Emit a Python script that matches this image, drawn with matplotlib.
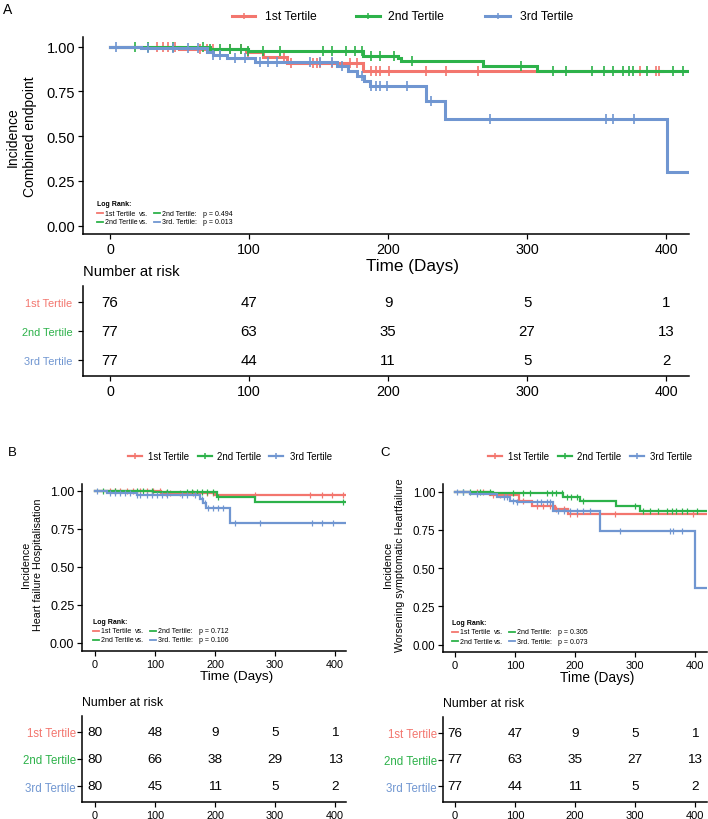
import numpy as np
import matplotlib
matplotlib.use('Agg')
import matplotlib.pyplot as plt
from matplotlib.lines import Line2D

plt.rcParams['font.family'] = ['Liberation Sans', 'DejaVu Sans']

W, H = 708, 820

groups = ['1st Tertile', '2nd Tertile', '3rd Tertile']
colors = ['#F3766E', '#2DB24A', '#7096D1']
risk_times = [0, 100, 200, 300, 400]

# ---- panel A: combined endpoint ----
a1_t = [50, 98, 110, 127, 182]
a1_s = [0.987, 0.97, 0.945, 0.91, 0.866]
a1_c = [34, 38, 42, 47, 65, 70, 74, 86, 94, 99, 125, 130, 146, 149, 151, 160, 173, 178,
        188, 191, 194, 201, 227, 242, 265, 381, 393, 395]
a2_t = [72, 99, 182, 207, 209, 268, 307]
a2_s = [0.987, 0.974, 0.95, 0.935, 0.922, 0.894, 0.863]
a2_c = [18, 27, 45, 67, 72, 79, 86, 94, 99, 110, 122, 153, 160, 170, 176, 181, 188, 194,
        204, 217, 296, 319, 328, 347, 355, 362, 369, 373, 376, 386, 405, 412]
a3_t = [22, 70, 74, 84, 104, 163, 171, 178, 183, 187, 227, 241, 401]
a3_s = [0.99, 0.97, 0.955, 0.935, 0.915, 0.894, 0.866, 0.838, 0.81, 0.779, 0.695, 0.596, 0.298]
a3_c = [4, 27, 45, 56, 63, 74, 79, 90, 97, 108, 114, 120, 144, 151, 160, 167, 181, 188,
        191, 194, 199, 214, 231, 273, 357, 362, 377]
a_end = [397, 417, 417]
a_risk = [[76, 47, 9, 5, 1], [77, 63, 35, 27, 13], [77, 44, 11, 5, 2]]
a_p = ['p = 0.494', 'p = 0.013']

# ---- panel B: heart failure hospitalisation ----
b1_t = [110, 200]
b1_s = [0.987, 0.974]
b1_c = [25, 33, 42, 53, 64, 75, 86, 97, 108, 119, 125, 142, 163, 187, 197, 267, 358, 378, 395, 413]
b2_t = [97, 203, 267]
b2_s = [0.993, 0.958, 0.93]
b2_c = [13, 33, 70, 80, 95, 120, 153, 162, 170, 178, 187, 197, 205, 413]
b3_t = [20, 70, 175, 180, 185, 225]
b3_s = [0.987, 0.974, 0.95, 0.92, 0.89, 0.79]
b3_c = [3, 25, 33, 42, 50, 58, 70, 75, 86, 95, 103, 112, 120, 145, 153, 167, 178, 183,
        188, 197, 205, 213, 233, 275, 362, 378, 397]
b_end = [420, 420, 420]
b_risk = [[80, 48, 9, 5, 1], [80, 66, 38, 29, 13], [80, 45, 11, 5, 2]]
b_p = ['p = 0.712', 'p = 0.106']

# ---- panel C: worsening symptomatic heartfailure ----
c1_t = [58, 106, 128, 167, 189]
c1_s = [0.975, 0.94, 0.908, 0.885, 0.855]
c1_c = [36, 47, 64, 75, 114, 136, 147, 158, 169, 181, 192, 203, 267, 397]
c2_t = [64, 180, 208, 269, 308]
c2_s = [0.99, 0.963, 0.941, 0.908, 0.872]
c2_c = [14, 25, 42, 58, 97, 114, 125, 153, 161, 169, 178, 186, 194, 203, 214, 300, 314,
        325, 339, 353, 361, 369, 378, 386, 403]
c3_t = [25, 70, 92, 103, 164, 242, 400]
c3_s = [0.985, 0.963, 0.941, 0.93, 0.876, 0.745, 0.37]
c3_c = [3, 14, 36, 81, 86, 97, 103, 136, 144, 153, 158, 172, 181, 192, 203, 214, 225,
        275, 358, 364, 378]
c_end = [420, 420, 420]
c_risk = [[76, 47, 9, 5, 1], [77, 63, 35, 27, 13], [77, 44, 11, 5, 2]]
c_p = ['p = 0.305', 'p = 0.073']

fig = plt.figure(figsize=(W / 100, H / 100), dpi=100)


def px_axes(l, t, r, b):
    return fig.add_axes([l / W, 1 - b / H, (r - l) / W, (b - t) / H])


def ftext(x, y, s, **kw):
    kw.setdefault('va', 'center')
    fig.text(x / W, 1 - y / H, s, **kw)


def fline(x1, x2, y, color, lw):
    fig.add_artist(Line2D([x1 / W, x2 / W], [1 - y / H, 1 - y / H], color=color, lw=lw))


def surv_at(ts, ss, t):
    i = np.searchsorted(ts, t, side='right')
    return 1.0 if i == 0 else ss[i - 1]


def draw_km(ax, ts, ss, cens, end, color, lw, ms):
    xs = [0] + ts + [end]
    ys = [1.0] + ss + [ss[-1]]
    ax.step(xs, ys, where='post', color=color, lw=lw, solid_joinstyle='miter')
    cy = [surv_at(ts, ss, c) for c in cens]
    ax.plot(cens, cy, ls='none', marker='|', ms=ms, mew=lw * 0.55, color=color)


def style(ax, fs_x, fs_y, lw_sp):
    for s in ['top', 'right']:
        ax.spines[s].set_visible(False)
    for s in ['left', 'bottom']:
        ax.spines[s].set_linewidth(lw_sp)
    ax.tick_params(axis='x', labelsize=fs_x, length=3.5, width=lw_sp * 0.8, pad=2.5)
    ax.tick_params(axis='y', labelsize=fs_y, length=3.5, width=lw_sp * 0.8, pad=2)
    ax.set_xticks(risk_times)


def main_panel(box, xlim, ylim, series, ends, lw, ms, fs_x, fs_y):
    ax = px_axes(*box)
    for (ts, ss, cs), e, col in zip(series, ends, colors):
        draw_km(ax, ts, ss, cs, e, col, lw, ms)
    ax.set_xlim(*xlim)
    ax.set_ylim(*ylim)
    ax.set_yticks([0, 0.25, 0.5, 0.75, 1.0])
    ax.set_yticklabels(['0.00', '0.25', '0.50', '0.75', '1.00'])
    style(ax, fs_x, fs_y, 1.1)
    return ax


def risk_panel(box, xlim, ylim, risk, fs_val, fs_lab, fs_x, lab_pad):
    ax = px_axes(*box)
    for i, row in enumerate(risk):
        for t, n in zip(risk_times, row):
            ax.text(t, 3 - i, str(n), ha='center', va='center', fontsize=fs_val)
    ax.set_xlim(*xlim)
    ax.set_ylim(*ylim)
    ax.set_yticks([3, 2, 1])
    ax.set_yticklabels(groups)
    style(ax, fs_x, fs_lab, 1.1)
    ax.tick_params(axis='y', pad=lab_pad)
    for lab, col in zip(ax.get_yticklabels(), colors):
        lab.set_color(col)
    return ax


def legend_row(y, items, lw, fs):
    # items: (line x1, line x2, text x)
    for (x1, x2, xt), g, col in zip(items, groups, colors):
        fline(x1, x2, y, col, lw)
        fig.add_artist(Line2D([(x1 + x2) / 2 / W], [1 - y / H], marker='|', ms=5,
                              mew=1.1, color=col, ls='none'))
        ftext(xt, y, g, fontsize=fs)


def logrank(x0, y0, pvals):
    fs = 5
    ftext(x0, y0, 'Log Rank:', fontsize=fs, fontweight='bold')
    pairs = [(0, 1, '1st Tertile', '2nd Tertile:'), (1, 2, '2nd Tertile', '3rd. Tertile:')]
    for i, (g1, g2, l1, l2) in enumerate(pairs):
        y = y0 + 9 * (i + 1)
        fline(x0, x0 + 5.5, y, colors[g1], 1.3)
        ftext(x0 + 7.5, y, l1, fontsize=fs)
        ftext(x0 + 42, y, 'vs.', fontsize=fs)
        fline(x0 + 57, x0 + 63, y, colors[g2], 1.3)
        ftext(x0 + 65, y, l2, fontsize=fs)
        ftext(x0 + 106, y, pvals[i], fontsize=fs)


# ================= panel A =================
ftext(3, 10, 'A', fontsize=10)
legend_row(17, [(232, 255, 265), (356, 380, 388), (485, 510, 520)], 2.2, 8.7)
main_panel((83, 38, 689, 235), (-19.4, 416.5), (-0.046, 1.054),
           [(a1_t, a1_s, a1_c), (a2_t, a2_s, a2_c), (a3_t, a3_s, a3_c)], a_end,
           2.2, 7, 10.3, 10.5)
ftext(21, 137, 'Incidence\nCombined endpoint', fontsize=10, rotation=90,
      ha='center', linespacing=1.3)
logrank(97, 205, a_p)
ftext(413, 267, 'Time (Days)', fontsize=12.3, ha='center')
ftext(83, 272, 'Number at risk', fontsize=10.6)
risk_panel((83, 287, 689, 377), (-19.4, 416.5), (0.44, 3.56), a_risk, 10.8, 7.9, 10.3, 4)

# ================= panel B =================
ftext(8, 453, 'B', fontsize=9.5)
legend_row(457, [(128, 142, 148), (198, 212, 217), (269, 283, 290)], 1.6, 6.9)
main_panel((82, 485, 346, 652), (-21.7, 418.3), (-0.053, 1.046),
           [(b1_t, b1_s, b1_c), (b2_t, b2_s, b2_c), (b3_t, b3_s, b3_c)], b_end,
           1.6, 5, 7.8, 9)
ftext(32, 565, 'Incidence\nHeart failure Hospitalisation', fontsize=7.7, rotation=90,
      ha='center', linespacing=1.25)
logrank(93, 623, b_p)
ftext(237, 677, 'Time (Days)', fontsize=9.7, ha='center')
ftext(82, 703, 'Number at risk', fontsize=8.9)
risk_panel((82, 717, 346, 803), (-21.7, 418.3), (0.41, 3.59), b_risk, 9.7, 8.3, 7.8, 1)

# ================= panel C =================
ftext(380, 453, 'C', fontsize=9.5)
legend_row(457, [(488, 502, 508), (558, 572, 577), (630, 644, 650)], 1.6, 6.9)
main_panel((443, 485, 707, 653), (-20, 420), (-0.048, 1.05),
           [(c1_t, c1_s, c1_c), (c2_t, c2_s, c2_c), (c3_t, c3_s, c3_c)], c_end,
           1.6, 5, 8, 8.3)
ftext(394, 565, 'Incidence\nWorsening symptomatic Heartfailure', fontsize=7.7, rotation=90,
      ha='center', linespacing=1.25)
logrank(452, 624, c_p)
ftext(597, 678, 'Time (Days)', fontsize=9.9, ha='center')
ftext(443, 704, 'Number at risk', fontsize=8.9)
risk_panel((443, 718, 707, 803), (-20, 420), (0.41, 3.59), c_risk, 9.7, 8.3, 8, 1)

fig.savefig('out.png', dpi=100)
